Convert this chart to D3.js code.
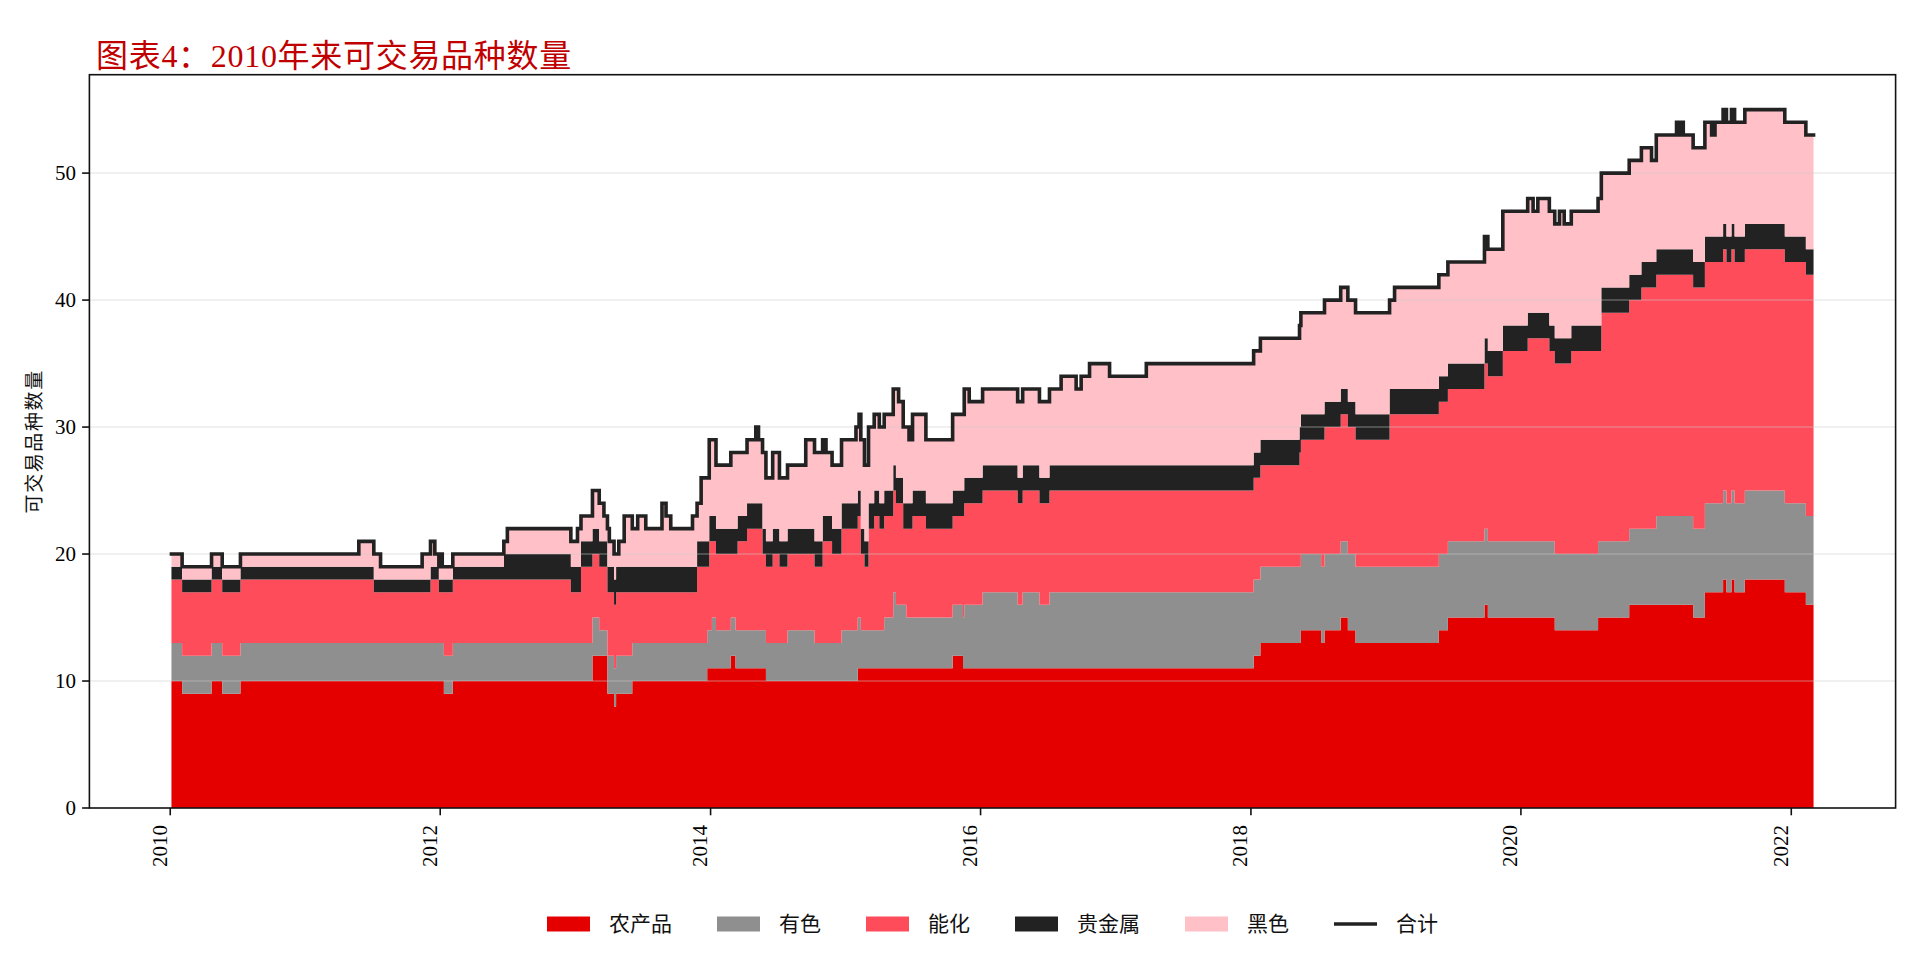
<!DOCTYPE html>
<html><head><meta charset="utf-8">
<script src="https://cdn.jsdelivr.net/npm/d3@7"></script>
<style>body{margin:0;background:#fff}svg{display:block}</style>
</head><body><svg id="c" width="1920" height="960"></svg>
<script>
// change points (decimal year) and the number of tradable contracts per sector from that date on
const dates = [2010.009,2010.088,2010.306,2010.385,2010.52,2011.397,2011.508,2011.558,2011.866,2011.928,2011.96,2011.99,2012.005,2012.015,2012.027,2012.093,2012.47,2012.496,2012.965,2013.014,2013.04,2013.125,2013.175,2013.21,2013.236,2013.25,2013.285,2013.30,2013.32,2013.36,2013.42,2013.46,2013.52,2013.64,2013.67,2013.705,2013.866,2013.90,2013.93,2013.975,2013.99,2014.01,2014.04,2014.15,2014.185,2014.20,2014.27,2014.335,2014.355,2014.385,2014.41,2014.46,2014.51,2014.57,2014.705,2014.77,2014.83,2014.855,2014.90,2014.97,2015.077,2015.09,2015.10,2015.113,2015.14,2015.17,2015.212,2015.25,2015.286,2015.353,2015.373,2015.393,2015.427,2015.45,2015.47,2015.496,2015.595,2015.793,2015.87,2015.879,2015.916,2016.015,2016.274,2016.311,2016.435,2016.509,2016.595,2016.706,2016.743,2016.805,2016.953,2017.225,2018.02,2018.07,2018.36,2018.37,2018.52,2018.545,2018.665,2018.718,2018.775,2019.027,2019.064,2019.392,2019.459,2019.73,2019.755,2019.866,2020.05,2020.09,2020.125,2020.21,2020.25,2020.285,2020.32,2020.372,2020.57,2020.594,2020.80,2020.89,2020.965,2021.0,2021.15,2021.17,2021.18,2021.20,2021.273,2021.36,2021.41,2021.435,2021.495,2021.52,2021.557,2021.58,2021.656,2021.952,2022.108];
const agri       = [10,9,10,9,10,10,10,10,10,10,10,10,10,10,9,10,10,10,10,10,10,12,12,12,9,9,8,9,9,9,10,10,10,10,10,10,10,10,10,11,11,11,11,12,11,11,11,11,11,11,10,10,10,10,10,10,10,10,10,10,10,11,11,11,11,11,11,11,11,11,11,11,11,11,11,11,11,12,11,11,11,11,11,11,11,11,11,11,11,11,11,11,12,13,13,14,13,14,15,14,13,13,13,14,15,16,15,15,15,15,15,15,14,14,14,14,15,15,16,16,16,16,16,16,16,16,15,17,17,17,18,17,18,17,18,17,16];
const nonferrous = [3,3,3,3,3,3,3,3,3,3,3,3,3,3,3,3,3,3,3,3,3,3,2,2,3,3,3,3,3,3,3,3,3,3,3,3,3,3,3,3,3,4,3,3,3,3,3,3,3,3,3,3,3,4,4,3,3,3,3,4,4,4,4,3,3,3,3,3,4,6,5,5,5,4,4,4,4,4,4,5,5,6,5,6,5,6,6,6,6,6,6,6,6,6,6,6,6,6,6,6,6,6,6,6,6,6,6,6,6,6,6,6,6,6,6,6,6,6,6,6,6,7,7,7,7,7,7,7,7,7,7,7,7,7,7,7,7];
const energy     = [5,5,5,5,5,5,4,4,4,5,5,4,4,4,5,5,5,5,4,4,6,5,5,5,5,5,5,5,5,5,4,4,4,4,4,4,4,6,6,5,7,6,6,5,6,7,8,8,8,6,6,7,6,6,6,6,8,8,7,8,8,8,8,6,5,8,9,8,8,8,8,8,6,7,7,8,7,7,8,8,8,8,8,8,8,8,8,8,8,8,8,8,8,8,9,9,10,10,10,10,10,12,12,12,12,13,13,15,16,16,16,15,15,15,15,16,15,18,18,19,19,19,19,19,19,19,19,19,19,19,19,19,19,19,19,19,19];
const precious   = [1,1,1,1,1,1,1,1,1,1,1,1,1,1,1,1,2,2,2,2,2,2,2,2,2,2,2,2,2,2,2,2,2,2,2,2,2,2,2,2,2,2,2,2,2,2,2,2,2,2,2,2,2,2,2,2,2,2,2,2,2,2,2,2,2,2,2,2,2,2,2,2,2,2,2,2,2,2,2,2,2,2,2,2,2,2,2,2,2,2,2,2,2,2,2,2,2,2,2,2,2,2,2,2,2,2,2,2,2,2,2,2,2,2,2,2,2,2,2,2,2,2,2,2,2,2,2,2,2,2,2,2,2,2,2,2,2];
const ferrous    = [1,1,1,1,1,2,2,1,2,2,1,1,2,1,1,1,1,2,2,3,2,3,3,2,3,2,2,1,2,4,3,4,3,5,4,3,4,3,5,5,6,6,5,6,6,5,5,6,5,6,5,6,5,5,7,7,6,5,5,5,6,5,6,7,6,6,6,6,6,6,7,6,6,6,5,6,5,6,6,7,6,6,6,6,6,6,7,6,7,8,7,8,8,8,8,8,8,8,8,8,8,7,8,8,8,8,8,9,9,8,9,9,9,10,9,9,10,9,9,9,8,9,10,9,10,9,9,9,8,9,9,9,9,9,9,9,9];
const endDate = 2022.165;

const seriesKeys  = ['agri','nonferrous','energy','precious','ferrous'];
const seriesNames = ['农产品','有色','能化','贵金属','黑色'];
const seriesColors = ['#e50000','#8f8f8f','#ff4c5a','#222222','#ffc0c8'];
const totalName = '合计';
const yTicks = [0,10,20,30,40,50];
const xTickYears = [2010,2012,2014,2016,2018,2020,2022];
const titleText = '图表4：2010年来可交易品种数量';
const yLabel = '可交易品种数量';

const FONT = "'Liberation Serif','Noto Sans CJK SC',serif";

function dec2date(d){
  const yr = Math.floor(d);
  const a = new Date(yr,0,1), b = new Date(yr+1,0,1);
  return new Date(+a + (d-yr)*(b-a));
}

const cols = {agri, nonferrous, energy, precious, ferrous};
const rows = dates.map((d,i)=>{
  const r = {date: dec2date(d)};
  seriesKeys.forEach(k=> r[k]=cols[k][i]);
  r.total = seriesKeys.reduce((s,k)=>s+r[k],0);
  return r;
});
rows.push(Object.assign({}, rows[rows.length-1], {date: dec2date(endDate)}));

const svg = d3.select('#c');
svg.append('rect').attr('width',1920).attr('height',960).attr('fill','#fff');

const M = {l:89.4, r:1895.6, t:74.7, b:808};
const span = endDate - dates[0];
const x = d3.scaleTime()
  .domain([dec2date(dates[0]-0.05*span), dec2date(endDate+0.05*span)])
  .range([M.l, M.r]);
const yMax = d3.max(rows, r=>r.total)*1.05;
const y = d3.scaleLinear().domain([0,yMax]).range([M.b, M.t]);

svg.append('clipPath').attr('id','clip').append('rect')
  .attr('x',M.l).attr('y',M.t).attr('width',M.r-M.l).attr('height',M.b-M.t);

const stacked = d3.stack().keys(seriesKeys)(rows);
const area = d3.area().curve(d3.curveStepAfter)
  .x(d=>x(d.data.date)).y0(d=>y(d[0])).y1(d=>y(d[1]));

const plot = svg.append('g').attr('clip-path','url(#clip)');
plot.selectAll('path.a').data(stacked).join('path')
  .attr('class','a').attr('d',area)
  .attr('fill',(d,i)=>seriesColors[i]).attr('stroke','none');

// grid (above areas, below line)
plot.selectAll('line.g').data(yTicks.filter(v=>v>0)).join('line')
  .attr('x1',M.l).attr('x2',M.r).attr('y1',d=>y(d)).attr('y2',d=>y(d))
  .attr('stroke','#c8c8c8').attr('stroke-opacity',0.38).attr('stroke-width',1.5);

const line = d3.line().curve(d3.curveStepAfter).x(d=>x(d.date)).y(d=>y(d.total));
plot.append('path').datum(rows).attr('d',line)
  .attr('fill','none').attr('stroke','#222').attr('stroke-width',3.6)
  .attr('stroke-linejoin','miter').attr('stroke-linecap','square');

// frame
svg.append('rect').attr('x',M.l).attr('y',M.t).attr('width',M.r-M.l).attr('height',M.b-M.t)
  .attr('fill','none').attr('stroke','#111').attr('stroke-width',1.6);

// y axis
const yAx = svg.append('g');
yTicks.forEach(v=>{
  yAx.append('line').attr('x1',M.l-7.3).attr('x2',M.l).attr('y1',y(v)).attr('y2',y(v))
    .attr('stroke','#111').attr('stroke-width',1.6);
  yAx.append('text').attr('x',M.l-13.5).attr('y',y(v)).attr('dy','0.34em')
    .attr('text-anchor','end').attr('font-family',FONT).attr('font-size',21)
    .attr('fill','#000').text(v);
});
// x axis
const xAx = svg.append('g');
xTickYears.forEach(yr=>{
  const px = x(new Date(yr,0,1));
  xAx.append('line').attr('x1',px).attr('x2',px).attr('y1',M.b).attr('y2',M.b+7.3)
    .attr('stroke','#111').attr('stroke-width',1.6);
  xAx.append('text').attr('transform',`translate(${px-3.7},${M.b+17}) rotate(-90)`)
    .attr('text-anchor','end').attr('font-family',FONT).attr('font-size',21)
    .attr('fill','#000').text(yr);
});

// y label
svg.append('text').attr('transform',`translate(34,${(M.t+M.b)/2}) rotate(-90)`)
  .attr('text-anchor','middle').attr('dominant-baseline','central')
  .attr('font-family',FONT).attr('font-size',19).attr('letter-spacing',1.6)
  .attr('fill','#111').text(yLabel);

// title
svg.append('text').attr('x',96).attr('y',67).attr('font-family',FONT)
  .attr('font-size',32).attr('letter-spacing',0.7).attr('fill','#c00000').text(titleText);

// legend
const leg = svg.append('g');
const items = seriesNames.map((n,i)=>({name:n,color:seriesColors[i],type:'rect'}))
  .concat([{name:totalName,color:'#222',type:'line'}]);
const sw = 43, gap = 19, colGap = 45, ly = 924, LF = 21;
const widths = items.map(it=>{
  const t = leg.append('text').attr('font-family',FONT).attr('font-size',LF).text(it.name);
  const w = t.node().getComputedTextLength(); t.remove(); return w;
});
const totalW = d3.sum(widths) + items.length*(sw+gap) + (items.length-1)*colGap;
let cx = (M.l+M.r)/2 - totalW/2;
items.forEach((it,i)=>{
  if(it.type==='rect'){
    leg.append('rect').attr('x',cx).attr('y',ly-7.5).attr('width',sw).attr('height',15)
      .attr('fill',it.color);
  } else {
    leg.append('line').attr('x1',cx).attr('x2',cx+sw).attr('y1',ly).attr('y2',ly)
      .attr('stroke',it.color).attr('stroke-width',3.6);
  }
  leg.append('text').attr('x',cx+sw+gap).attr('y',ly).attr('dominant-baseline','central')
    .attr('font-family',FONT).attr('font-size',LF).attr('fill','#111').text(it.name);
  cx += sw+gap+widths[i]+colGap;
});
</script></body></html>
